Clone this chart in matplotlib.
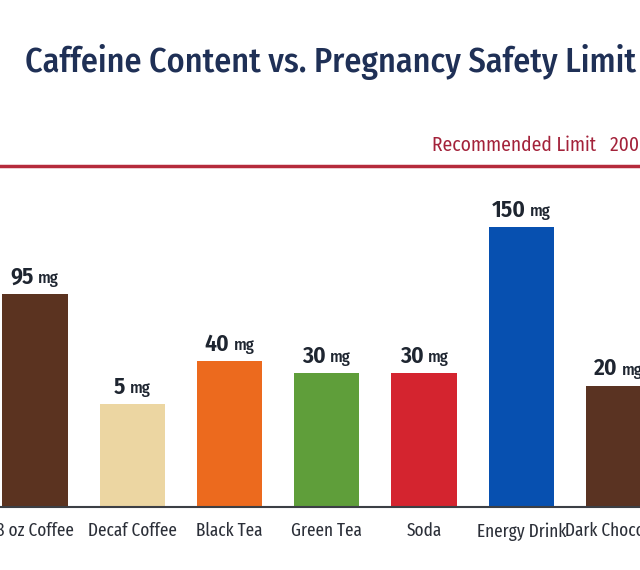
import matplotlib.pyplot as plt

plt.rcParams['font.family'] = ['Fira Sans Condensed', 'DejaVu Sans']

drinks = ['8 oz Coffee', 'Decaf Coffee', 'Black Tea', 'Green Tea', 'Soda',
          'Energy Drink', 'Dark Chocolate']
caffeine_mg = [95, 5, 40, 30, 30, 150, 20]
limit_mg = 200
colors = ['#5b3320', '#ecd6a2', '#ec6a1e', '#5f9e3a', '#d4242f', '#0750b0', '#5a3322']

fig = plt.figure(figsize=(6.4, 5.7), dpi=100)
# axes runs past the figure edges so the outer bars/labels are cut like the reference
ax = fig.add_axes([0, 63 / 570, 1, 407 / 570])

floor = -79.5
x = list(range(len(drinks)))
ax.bar(x, [v - floor for v in caffeine_mg], bottom=floor, width=0.67,
       color=colors, zorder=2)
ax.set_xlim(-0.36, 6.22)
ax.set_ylim(floor, floor + 407 / 1.22)

for i, v in enumerate(caffeine_mg):
    num = ax.annotate(str(v), xy=(i, v), xytext=(-9, 4), textcoords='offset points',
                      ha='center', va='bottom', fontsize=17, fontweight='semibold',
                      color='#1e2530')
    ax.annotate('mg', xy=(1, 0), xycoords=num, xytext=(3, 1),
                textcoords='offset points', ha='left', va='bottom',
                fontsize=12, fontweight='medium', color='#1e2530')

# limit line
ax.axhline(limit_mg, color='#b52b3c', lw=2.5, zorder=3)
ax.annotate(f'Recommended Limit   {limit_mg} mg', xy=(432 / 640, limit_mg),
            xycoords=('axes fraction', 'data'), xytext=(0, 8),
            textcoords='offset points', ha='left', va='bottom',
            fontsize=14, color='#a3223a')

ax.set_xticks(x)
ax.set_xticklabels(drinks, fontsize=13.5, color='#2b2f38',
                   family=['Fira Sans Extra Condensed', 'DejaVu Sans'])
ax.tick_params(axis='x', length=0, pad=11)
ax.set_yticks([])
for s in ['top', 'right', 'left']:
    ax.spines[s].set_visible(False)
ax.spines['bottom'].set_color('#3c3f45')
ax.spines['bottom'].set_linewidth(1.5)
ax.spines['bottom'].set_zorder(4)

fig.text(25 / 640, 1 - 62 / 570, 'Caffeine Content vs. Pregnancy Safety Limit',
         ha='left', va='center', fontsize=24.5, fontweight='medium', color='#1f3056')

fig.savefig('out.png', dpi=100, facecolor='white')
